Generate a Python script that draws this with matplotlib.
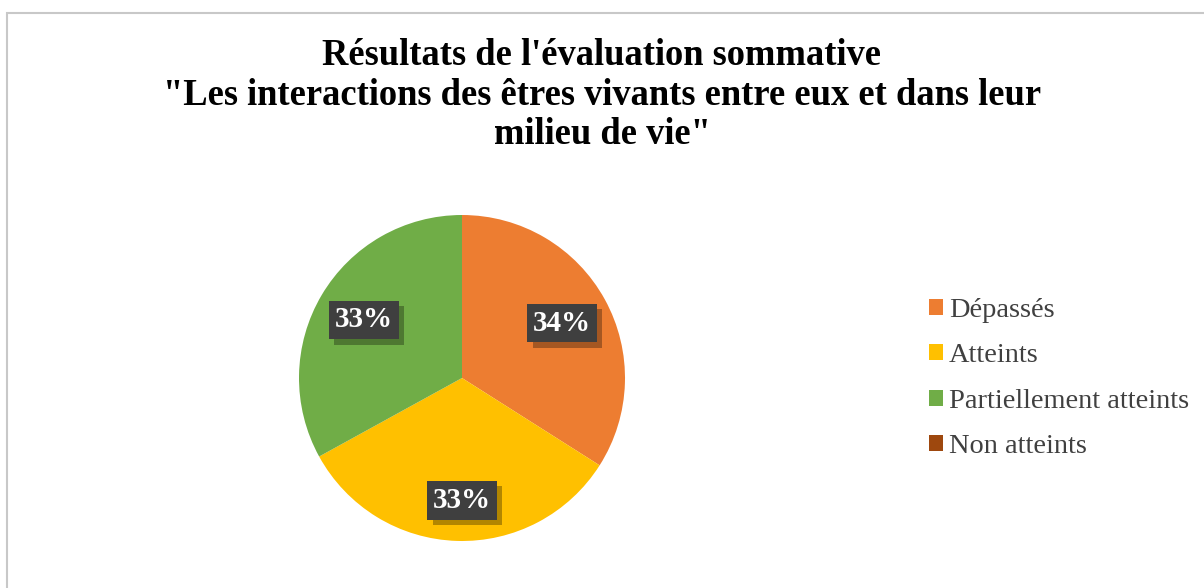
import matplotlib.pyplot as plt
import matplotlib.patches as mpatches
from matplotlib.patches import Rectangle
import matplotlib.patheffects as pe
import numpy as np

categories = ["Dépassés", "Atteints", "Partiellement atteints", "Non atteints"]
values = [34, 33, 33, 0]
colors = ["#ED7D31", "#FFC000", "#70AD47", "#9E480E"]
title = "Résultats de l'évaluation sommative\n\"Les interactions des êtres vivants entre eux et dans leur\nmilieu de vie\""

W, H = 1204, 588
fig = plt.figure(figsize=(W / 100, H / 100), dpi=100)
fig.patch.set_facecolor("white")

# outer border
fig.patches.append(Rectangle((7 / W, -0.1), 1.2, 1 - 13 / H + 0.1, transform=fig.transFigure,
                             fill=False, edgecolor="#C8C8C8", linewidth=1.5))

fig.text(0.5, 1 - 38 / H, title, ha="center", va="top", family="Liberation Serif",
         fontweight="bold", fontsize=26.3, linespacing=1.17, color="black")

cx, cy, r = 462, 378, 163
ax = fig.add_axes([(cx - r) / W, (H - cy - r) / H, 2 * r / W, 2 * r / H])
wedges, _ = ax.pie(values, colors=colors, startangle=90, counterclock=False,
                   radius=1.0, wedgeprops=dict(linewidth=0))
ax.set_xlim(-1, 1)
ax.set_ylim(-1, 1)
ax.set_aspect("equal")
ax.axis("off")

total = sum(values)
ang = 90.0
for v in values:
    span = 360.0 * v / total
    if v > 0:
        mid = np.deg2rad(ang - span / 2)
        d = 0.7
        x, y = d * np.cos(mid), d * np.sin(mid)
        if abs(np.cos(mid)) < 0.2:
            x, y = 0.0, -0.75
        ax.text(x, y, f"{v / total * 100:.0f}%", ha="center", va="center",
                family="Liberation Serif", fontweight="bold", fontsize=21, color="white",
                bbox=dict(boxstyle="square,pad=0.2", facecolor="#3F3F3F", edgecolor="none",
                          path_effects=[pe.SimplePatchShadow(offset=(4, -4), shadow_rgbFace="#000000", alpha=0.3),
                                        pe.Normal()]))
    ang -= span

handles = [mpatches.Patch(facecolor=c, edgecolor="none") for c in colors]
fig.legend(handles, categories, loc="upper left", bbox_to_anchor=(929 / W, 1 - 298 / H),
           frameon=False, prop=dict(family="Liberation Serif", size=20.4),
           handlelength=0.5, handleheight=0.5, handletextpad=0.2, labelspacing=0.72,
           labelcolor="#404040", borderaxespad=0, borderpad=0)

fig.savefig("out.png", dpi=100)
